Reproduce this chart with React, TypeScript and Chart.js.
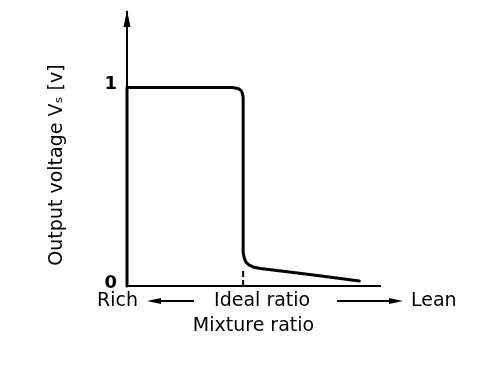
import { useEffect, useRef } from "react";
import { Chart, registerables } from "chart.js";

Chart.register(...registerables);

// Output voltage curve (x: mixture ratio, arbitrary units; y: volts)
const curveX = [0, 0, 3, 4.57, 4.83, 4.96, 5.02, 5.05, 5.05, 5.1, 5.17, 5.3, 5.48, 5.8, 7.5, 9.2, 10.1];
const curveY = [0, 1, 1, 1, 0.995, 0.985, 0.97, 0.95, 0.17, 0.14, 0.12, 0.106, 0.096, 0.088, 0.064, 0.039, 0.025];
// Dashed marker at the ideal ratio
const idealX = [5.05, 5.05];
const idealY = [0, 0.09];
const yTickValues = [0, 1];
const yTitle = "Output voltage Vₛ [v]";
const xTitle = "Mixture ratio";
const richLabel = "Rich";
const idealLabel = "Ideal ratio";
const leanLabel = "Lean";

const FONT = "'DejaVu Sans', sans-serif";

const decorPlugin = {
  id: "decor",
  afterDraw(chart: any) {
    const ctx = chart.ctx as CanvasRenderingContext2D;
    const area = chart.chartArea;
    const xs = chart.scales.x;
    ctx.save();
    ctx.fillStyle = "#000";
    ctx.strokeStyle = "#000";
    // y-axis arrowhead
    const ax = area.left;
    const at = area.top - 2;
    ctx.beginPath();
    ctx.moveTo(ax, at);
    ctx.lineTo(ax - 3.5, at + 17);
    ctx.lineTo(ax + 3.5, at + 17);
    ctx.closePath();
    ctx.fill();

    // y-axis title (rotated)
    ctx.save();
    ctx.font = `19px ${FONT}`;
    ctx.textAlign = "center";
    ctx.textBaseline = "middle";
    ctx.translate(area.left - 70, (area.top + area.bottom) / 2 + 16);
    ctx.rotate(-Math.PI / 2);
    ctx.fillText(yTitle, 0, 0);
    ctx.restore();

    // bottom row
    const rowY = area.bottom + 15;
    ctx.font = `19px ${FONT}`;
    ctx.textBaseline = "middle";
    ctx.textAlign = "left";
    ctx.fillText(richLabel, area.left - 30, rowY);
    ctx.textAlign = "center";
    const idealPx = xs.getPixelForValue(idealX[0]);
    ctx.fillText(idealLabel, idealPx + 19, rowY);
    ctx.textAlign = "left";
    ctx.fillText(leanLabel, area.right + 31, rowY);

    // arrows
    ctx.lineWidth = 2;
    const lx1 = area.left + 20, lx2 = area.left + 67;
    ctx.beginPath();
    ctx.moveTo(lx1 + 8, rowY);
    ctx.lineTo(lx2, rowY);
    ctx.stroke();
    ctx.beginPath();
    ctx.moveTo(lx1, rowY);
    ctx.lineTo(lx1 + 14, rowY - 3);
    ctx.lineTo(lx1 + 14, rowY + 3);
    ctx.closePath();
    ctx.fill();

    const rx1 = area.right - 43, rx2 = area.right + 23;
    ctx.beginPath();
    ctx.moveTo(rx1, rowY);
    ctx.lineTo(rx2 - 8, rowY);
    ctx.stroke();
    ctx.beginPath();
    ctx.moveTo(rx2, rowY);
    ctx.lineTo(rx2 - 14, rowY - 3);
    ctx.lineTo(rx2 - 14, rowY + 3);
    ctx.closePath();
    ctx.fill();
    ctx.restore();
  },
};

export default function App() {
  const ref = useRef<HTMLCanvasElement | null>(null);
  useEffect(() => {
    if (!ref.current) return;
    const chart = new Chart(ref.current, {
      type: "line",
      data: {
        datasets: [
          {
            data: curveX.map((x, i) => ({ x, y: curveY[i] })),
            borderColor: "#000",
            borderWidth: 3,
            pointRadius: 0,
            tension: 0,
            borderCapStyle: "round",
            borderJoinStyle: "round",
            clip: false as any,
          },
          {
            data: idealX.map((x, i) => ({ x, y: idealY[i] })),
            borderColor: "#000",
            borderWidth: 2,
            borderDash: [6, 3],
            pointRadius: 0,
            clip: false as any,
          },
        ],
      },
      options: {
        animation: false,
        responsive: false,
        events: [],
        layout: { padding: { left: 40, right: 116, top: 12, bottom: 27 } },
        plugins: { legend: { display: false }, tooltip: { enabled: false } },
        scales: {
          x: {
            type: "linear",
            min: 0,
            max: 11,
            grid: { display: false, drawTicks: false },
            border: { display: true, color: "#000", width: 2 },
            ticks: { display: false },
            title: {
              display: true,
              text: xTitle,
              color: "#000",
              font: { family: FONT, size: 19 },
              padding: 4,
            },
            afterFit(scale: any) {
              scale.height = 55;
              scale.paddingLeft = 0;
              scale.paddingRight = 0;
            },
          },
          y: {
            type: "linear",
            min: 0,
            max: 1.38,
            afterBuildTicks(scale: any) {
              scale.ticks = yTickValues.map((v) => ({ value: v }));
            },
            grid: { display: false, drawTicks: false },
            border: { display: true, color: "#000", width: 2 },
            ticks: {
              color: "#000",
              font: { family: FONT, size: 18, weight: "bold" },
              padding: 10,
              labelOffset: -3,
              callback: (v: any) => String(v),
            },
            title: { display: false },
            afterFit(scale: any) {
              scale.width = 87;
              scale.paddingTop = 0;
              scale.paddingBottom = 0;
            },
          },
        },
      },
      plugins: [decorPlugin],
    } as any);
    return () => chart.destroy();
  }, []);
  return (
    <canvas
      ref={ref}
      width={496}
      height={368}
      style={{ position: "fixed", left: 0, top: 0, width: 496, height: 368, display: "block", background: "#fff" }}
    />
  );
}
